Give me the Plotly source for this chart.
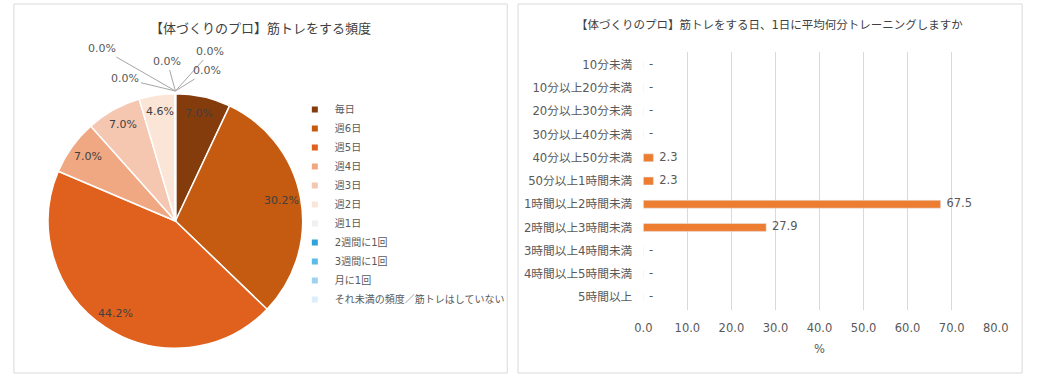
import math
import plotly.graph_objects as go

W, H = 1041, 378

# ---------------- data ----------------
freq_title = "【体づくりのプロ】筋トレをする頻度"
freq_labels = ["毎日", "週6日", "週5日", "週4日", "週3日", "週2日", "週1日",
               "2週間に1回", "3週間に1回", "月に1回", "それ未満の頻度／筋トレはしていない"]
freq_values = [7.0, 30.2, 44.2, 7.0, 7.0, 4.6, 0.0, 0.0, 0.0, 0.0, 0.0]
freq_colors = ["#843C0C", "#C55A11", "#E0611D", "#F0A883", "#F5C6B0", "#FBE5D6",
               "#F3EFEC", "#2FA3DA", "#5BBDE6", "#9DD3F0", "#DCEEFB"]

time_title = "【体づくりのプロ】筋トレをする日、1日に平均何分トレーニングしますか"
time_labels = ["10分未満", "10分以上20分未満", "20分以上30分未満", "30分以上40分未満",
               "40分以上50分未満", "50分以上1時間未満", "1時間以上2時間未満",
               "2時間以上3時間未満", "3時間以上4時間未満", "4時間以上5時間未満", "5時間以上"]
time_values = [None, None, None, None, 2.3, 2.3, 67.5, 27.9, None, None, None]
x_ticks = [0, 10, 20, 30, 40, 50, 60, 70, 80]
x_title = "%"

# ---------------- style ----------------
FONT = "DejaVu Sans, Noto Sans CJK JP, sans-serif"
TXT = "#595959"
DARK = "#404040"
GRID = "#D9D9D9"
BAR = "#ED7D31"

# pie geometry (pixels)
pie_x0, pie_x1, pie_y0, pie_y1 = 40, 300, 91, 351
cx, cy = (pie_x0 + pie_x1) / 2, (pie_y0 + pie_y1) / 2
R = (pie_x1 - pie_x0) / 2


def px(x):
    return x / W


def py(y):
    return 1 - y / H


fig = go.Figure()

fig.add_trace(go.Pie(
    labels=freq_labels, values=freq_values, sort=False, direction="clockwise",
    rotation=0, textinfo="none", hoverinfo="label+percent",
    marker=dict(colors=freq_colors, line=dict(color="white", width=1.5)),
    domain=dict(x=[px(pie_x0), px(pie_x1)], y=[py(pie_y1), py(pie_y0)]),
    showlegend=False,
))

# legend entries (small square markers)
for lab, col in zip(freq_labels, freq_colors):
    fig.add_trace(go.Scatter(
        x=[None], y=[None], mode="markers", name=lab,
        marker=dict(symbol="square", size=6, color=col),
        xaxis="x2", yaxis="y2", showlegend=True, hoverinfo="skip",
    ))

# bar chart
bar_vals = [v if v is not None else 0 for v in time_values]
fig.add_trace(go.Bar(
    x=bar_vals, y=time_labels, orientation="h", marker=dict(color=BAR),
    width=0.34, showlegend=False, hoverinfo="x+y",
))
fig.add_trace(go.Scatter(
    x=bar_vals, y=time_labels, mode="text",
    text=["\u2002" + (f"{v:.1f}" if v is not None else "-") for v in time_values],
    textposition="middle right", textfont=dict(family=FONT, size=11.5, color=TXT),
    showlegend=False, hoverinfo="skip", cliponaxis=False,
))

annotations = []
# pie slice labels, placed near the outer edge
total = sum(freq_values)
cum = 0.0
for v in freq_values:
    if v > 0:
        th = 2 * math.pi * (cum + v / 2) / total
        d = 0.85 * R
        annotations.append(dict(
            x=px(cx + d * math.sin(th)), y=py(cy - d * math.cos(th)),
            xref="paper", yref="paper", xanchor="center", yanchor="middle",
            text=f"{v:.1f}%", showarrow=False,
            font=dict(family=FONT, size=11, color=DARK),
        ))
    cum += v

# zero-value labels with leader lines to the top of the pie
zero_offsets = [(-73, -42), (-50, -12), (-8, -29), (35, -39), (32, -20)]
zi = 0
for v in freq_values:
    if v == 0 and zi < len(zero_offsets):
        ax, ay = zero_offsets[zi]
        zi += 1
        annotations.append(dict(
            x=px(cx), y=py(cy - R), xref="paper", yref="paper",
            text=f"{v:.1f}%", showarrow=True, arrowhead=0, arrowwidth=1,
            arrowcolor="#A6A6A6", ax=ax, ay=ay, standoff=0,
            font=dict(family=FONT, size=11, color=TXT),
        ))

annotations.append(dict(x=px(257), y=py(28), xref="paper", yref="paper",
                        xanchor="center", yanchor="middle",
                        text=freq_title, showarrow=False,
                        font=dict(family=FONT, size=13, color=DARK)))
annotations.append(dict(x=px(777), y=py(25), xref="paper", yref="paper",
                        xanchor="center", yanchor="middle",
                        text=time_title, showarrow=False,
                        font=dict(family=FONT, size=11.5, color=DARK)))

shapes = [
    dict(type="rect", xref="paper", yref="paper", x0=px(5), x1=px(509),
         y0=py(373), y1=py(4), line=dict(color=GRID, width=1)),
    dict(type="rect", xref="paper", yref="paper", x0=px(520), x1=px(1035),
         y0=py(373), y1=py(4), line=dict(color=GRID, width=1)),
]

fig.update_layout(
    autosize=True, margin=dict(l=0, r=0, t=0, b=0),
    paper_bgcolor="white", plot_bgcolor="white",
    font=dict(family=FONT, size=11.5, color=TXT),
    annotations=annotations, shapes=shapes,
    legend=dict(x=px(292), y=py(95), xanchor="left", yanchor="top",
                font=dict(family=FONT, size=10, color=TXT),
                bgcolor="rgba(0,0,0,0)", itemclick=False),
    xaxis=dict(domain=[px(648), px(1008)], range=[0, 80], tickvals=x_ticks,
               tickformat=".1f", showgrid=True, gridcolor=GRID, gridwidth=1,
               zeroline=False, showline=False, ticks="", ticklabelstandoff=9,
               tickfont=dict(size=11.5, color=TXT),
               title=dict(text=x_title, standoff=11, font=dict(size=11.5, color=TXT)),
               fixedrange=True),
    yaxis=dict(domain=[py(310), py(52)], type="category",
               categoryorder="array", categoryarray=time_labels,
               autorange="reversed", showgrid=False, zeroline=False,
               showline=False, ticks="", ticklabelstandoff=10,
               tickfont=dict(size=11.7, color=TXT), fixedrange=True),
    xaxis2=dict(domain=[0, 0.01], visible=False),
    yaxis2=dict(domain=[0, 0.01], visible=False, anchor="x2"),
)

# the graph div is pinned to the window's top-left corner at exactly W x H
fig.write_html(
    "out.html",
    default_width=f"{W}px",
    default_height=f"{H}px; position:fixed; left:0; top:0",
)
